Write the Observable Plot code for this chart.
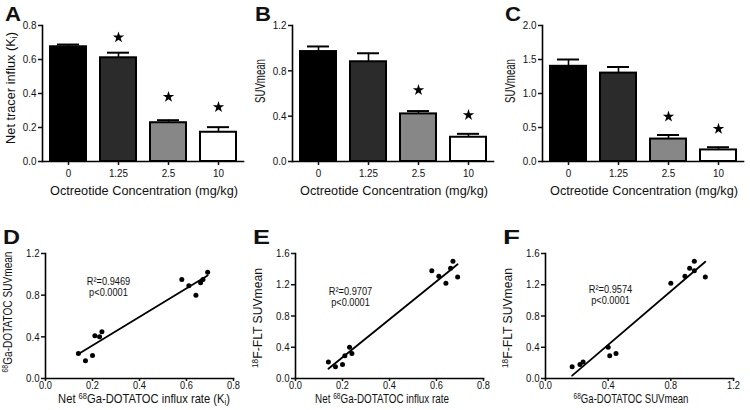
<!DOCTYPE html>
<html><head><meta charset="utf-8">
<script src="https://cdn.jsdelivr.net/npm/d3@7"></script>
<script src="https://cdn.jsdelivr.net/npm/@observablehq/plot@0.6"></script>
<style>
body{margin:0;background:#fff;}
#fig{position:relative;width:750px;height:410px;overflow:hidden;}
.panel{position:absolute;width:250px;height:205px;}
</style></head><body><div id="fig"></div>
<script>
// ---- data ----
const categories = ["0", "1.25", "2.5", "10"];
const barColors = ["#000000", "#2b2b2b", "#878787", "#ffffff"];

const kiMean = [0.675, 0.61, 0.228, 0.172];
const kiErr = [0.013, 0.03, 0.015, 0.03];
const kiStar = [null, 0.73, 0.38, 0.32];

const suvMean = [0.97, 0.88, 0.42, 0.214];
const suvErr = [0.045, 0.075, 0.025, 0.03];
const suvStar = [null, null, 0.63, 0.41];

const fltMean = [1.40, 1.30, 0.33, 0.17];
const fltErr = [0.10, 0.09, 0.06, 0.04];
const fltStar = [null, null, 0.66, 0.48];

const mouseKi = [0.14, 0.17, 0.20, 0.21, 0.23, 0.24, 0.58, 0.61, 0.64, 0.66, 0.67, 0.69];
const mouseDotatocSUV = [0.24, 0.17, 0.22, 0.41, 0.40, 0.45, 0.95, 0.89, 0.80, 0.92, 0.95, 1.02];
const mouseFltSUV = [0.21, 0.15, 0.18, 0.29, 0.40, 0.32, 1.38, 1.31, 1.22, 1.41, 1.50, 1.30];

const FONT = '"Liberation Sans", Arial, Helvetica, sans-serif';
const fig = document.getElementById("fig");

function addText(svg, {x, y, rotate = 0, size = 12, weight = "normal", anchor = "middle", parts, len = null}) {
  const t = d3.select(svg).append("text")
    .attr("text-anchor", anchor)
    .attr("font-family", FONT)
    .attr("font-size", size)
    .attr("font-weight", weight)
    .attr("fill", "#111");
  for (const [s, kind] of parts) {
    const sp = t.append("tspan").text(s);
    if (kind === "sup") sp.attr("font-size", size * 0.68).attr("baseline-shift", "45%");
    if (kind === "sub") sp.attr("font-size", size * 0.68).attr("baseline-shift", "-20%");
  }
  let k = 1;
  if (len) { const w = t.node().getComputedTextLength(); if (w > 0) k = len / w; }
  t.attr("transform", `translate(${x},${y}) rotate(${rotate}) scale(${k},1)`);
}

// horizontally condense tick labels / annotations to mimic the reference's narrow type
function condense(svg, k) {
  svg.querySelectorAll('g[aria-label$="tick label"] text, g[aria-label="text"] text').forEach(el => {
    const tr = el.getAttribute("transform");
    if (tr) el.setAttribute("transform", tr + ` scale(${k},1)`);
    else if (el.hasAttribute("x") || el.hasAttribute("y")) {
      const x = el.getAttribute("x") || 0, y = el.getAttribute("y") || 0;
      el.removeAttribute("x"); el.removeAttribute("y");
      el.setAttribute("transform", `translate(${x},${y}) scale(${k},1)`);
    } else el.setAttribute("transform", `scale(${k},1)`);
  });
}

function place(svg, col, row) {
  svg.classList.add("panel");
  svg.style.left = (col * 250) + "px";
  svg.style.top = (row * 205) + "px";
  fig.appendChild(svg);
}

function barPanel({col, letter, mean, err, star, yMax, yTicks, yTitle, yLen, yMid, ySize}) {
  const data = categories.map((c, i) => ({cat: c, mean: mean[i], err: err[i], star: star[i], color: barColors[i]}));
  const svg = Plot.plot({
    width: 250, height: 205,
    marginLeft: 42, marginRight: 7, marginTop: 25, marginBottom: 44,
    style: {fontFamily: FONT, fontSize: "11px", color: "#111", background: "transparent", overflow: "visible"},
    x: {type: "band", domain: categories, paddingInner: 0.29, paddingOuter: 0.14, label: null},
    y: {domain: [0, yMax], label: null},
    color: {type: "identity"},
    marks: [
      Plot.ruleX(data, {x: "cat", y1: "mean", y2: d => d.mean + d.err, stroke: "#000", strokeWidth: 1.6}),
      Plot.tickY(data, {x: "cat", y: d => d.mean + d.err, insetLeft: 7, insetRight: 7, stroke: "#000", strokeWidth: 2}),
      Plot.barY(data, {x: "cat", y: "mean", fill: "color", stroke: "#000", strokeWidth: 2}),
      Plot.dot(data.filter(d => d.star != null), {x: "cat", y: "star", symbol: "star", r: 3.6, fill: "#000", stroke: "none"}),
      Plot.frame({anchor: "left", stroke: "#000", strokeWidth: 1.6}),
      Plot.frame({anchor: "bottom", stroke: "#000", strokeWidth: 1.6}),
      Plot.axisY({ticks: yTicks, tickFormat: d3.format(".1f"), tickSize: 4, tickPadding: 2, strokeWidth: 1.5, fontSize: 11.5}),
      Plot.axisX({tickSize: 4, tickPadding: 3, strokeWidth: 1.5, fontSize: 11.5})
    ]
  });
  place(svg, col, 0);
  condense(svg, 0.86);
  addText(svg, {x: 5, y: 21, size: 21, weight: "bold", anchor: "start", parts: [[letter]], len: 16});
  addText(svg, {x: 144, y: 195, size: 13.5, parts: [["Octreotide Concentration (mg/kg)"]], len: 188});
  addText(svg, {x: 15, y: yMid, rotate: -90, size: ySize, parts: yTitle, len: yLen});
}

function scatterPanel({col, letter, xs, ys, xMax, xTicks, yMax, yTicks, xTitle, yTitle, xLen, xMid, yLen, yMid, stats, statX, statY}) {
  const data = xs.map((x, i) => ({x, y: ys[i]}));
  const svg = Plot.plot({
    width: 250, height: 205,
    marginLeft: 45, marginRight: 17, marginTop: 48, marginBottom: 32,
    style: {fontFamily: FONT, fontSize: "11px", color: "#111", background: "transparent", overflow: "visible"},
    x: {domain: [0, xMax], label: null},
    y: {domain: [0, yMax], label: null},
    marks: [
      Plot.linearRegressionY(data, {x: "x", y: "y", stroke: "#000", strokeWidth: 1.8, ci: 0}),
      Plot.dot(data, {x: "x", y: "y", r: 2.5, fill: "#000", stroke: "none"}),
      Plot.text([stats], {x: statX, y: statY, text: d => d, fontSize: 11, lineHeight: 1.0, fill: "#111"}),
      Plot.frame({anchor: "left", stroke: "#000", strokeWidth: 1.6}),
      Plot.frame({anchor: "bottom", stroke: "#000", strokeWidth: 1.6}),
      Plot.axisY({ticks: yTicks, tickFormat: d3.format(".1f"), tickSize: 4, tickPadding: 2, strokeWidth: 1.5, fontSize: 11.5}),
      Plot.axisX({ticks: xTicks, tickFormat: d3.format(".1f"), tickSize: 3, tickPadding: 0, strokeWidth: 1.5, fontSize: 11})
    ]
  });
  place(svg, col, 1);
  condense(svg, 0.84);
  addText(svg, {x: 3, y: 39, size: 21, weight: "bold", anchor: "start", parts: [[letter]], len: 17});
  addText(svg, {x: xMid, y: 198, size: 12.5, parts: xTitle, len: xLen});
  addText(svg, {x: 12, y: yMid, rotate: -90, size: 12.5, parts: yTitle, len: yLen});
}

barPanel({col: 0, letter: "A", mean: kiMean, err: kiErr, star: kiStar, yMax: 0.8, ySize: 13,
  yTicks: [0, 0.2, 0.4, 0.6, 0.8], yTitle: [["Net tracer influx (K"], ["i", "sub"], [")"]], yLen: 112, yMid: 88});
barPanel({col: 1, letter: "B", mean: suvMean, err: suvErr, star: suvStar, yMax: 1.2, ySize: 14,
  yTicks: [0, 0.4, 0.8, 1.2], yTitle: [["SUVmean"]], yLen: 44, yMid: 81});
barPanel({col: 2, letter: "C", mean: fltMean, err: fltErr, star: fltStar, yMax: 2.0, ySize: 14,
  yTicks: [0, 0.5, 1.0, 1.5, 2.0], yTitle: [["SUVmean"]], yLen: 44, yMid: 81});

scatterPanel({col: 0, letter: "D", xs: mouseKi, ys: mouseDotatocSUV, xMax: 0.8, xTicks: [0, 0.2, 0.4, 0.6, 0.8],
  yMax: 1.2, yTicks: [0, 0.4, 0.8, 1.2],
  xTitle: [["Net "], ["68", "sup"], ["Ga-DOTATOC influx rate (K"], ["i", "sub"], [")"]], xLen: 172, xMid: 144,
  yTitle: [["68", "sup"], ["Ga-DOTATOC SUVmean"]], yLen: 121, yMid: 107,
  stats: "R²=0.9469\np<0.0001", statX: 0.268, statY: 0.875});
scatterPanel({col: 1, letter: "E", xs: mouseKi, ys: mouseFltSUV, xMax: 0.8, xTicks: [0, 0.2, 0.4, 0.6, 0.8],
  yMax: 1.6, yTicks: [0, 0.4, 0.8, 1.2, 1.6],
  xTitle: [["Net "], ["68", "sup"], ["Ga-DOTATOC influx rate"]], xLen: 134, xMid: 132,
  yTitle: [["18", "sup"], ["F-FLT SUVmean"]], yLen: 100, yMid: 113,
  stats: "R²=0.9707\np<0.0001", statX: 0.234, statY: 1.04});
scatterPanel({col: 2, letter: "F", xs: mouseDotatocSUV, ys: mouseFltSUV, xMax: 1.2, xTicks: [0, 0.4, 0.8, 1.2],
  yMax: 1.6, yTicks: [0, 0.4, 0.8, 1.2, 1.6],
  xTitle: [["68", "sup"], ["Ga-DOTATOC SUVmean"]], xLen: 115, xMid: 131,
  yTitle: [["18", "sup"], ["F-FLT SUVmean"]], yLen: 100, yMid: 113,
  stats: "R²=0.9574\np<0.0001", statX: 0.415, statY: 1.07});
</script></body></html>
